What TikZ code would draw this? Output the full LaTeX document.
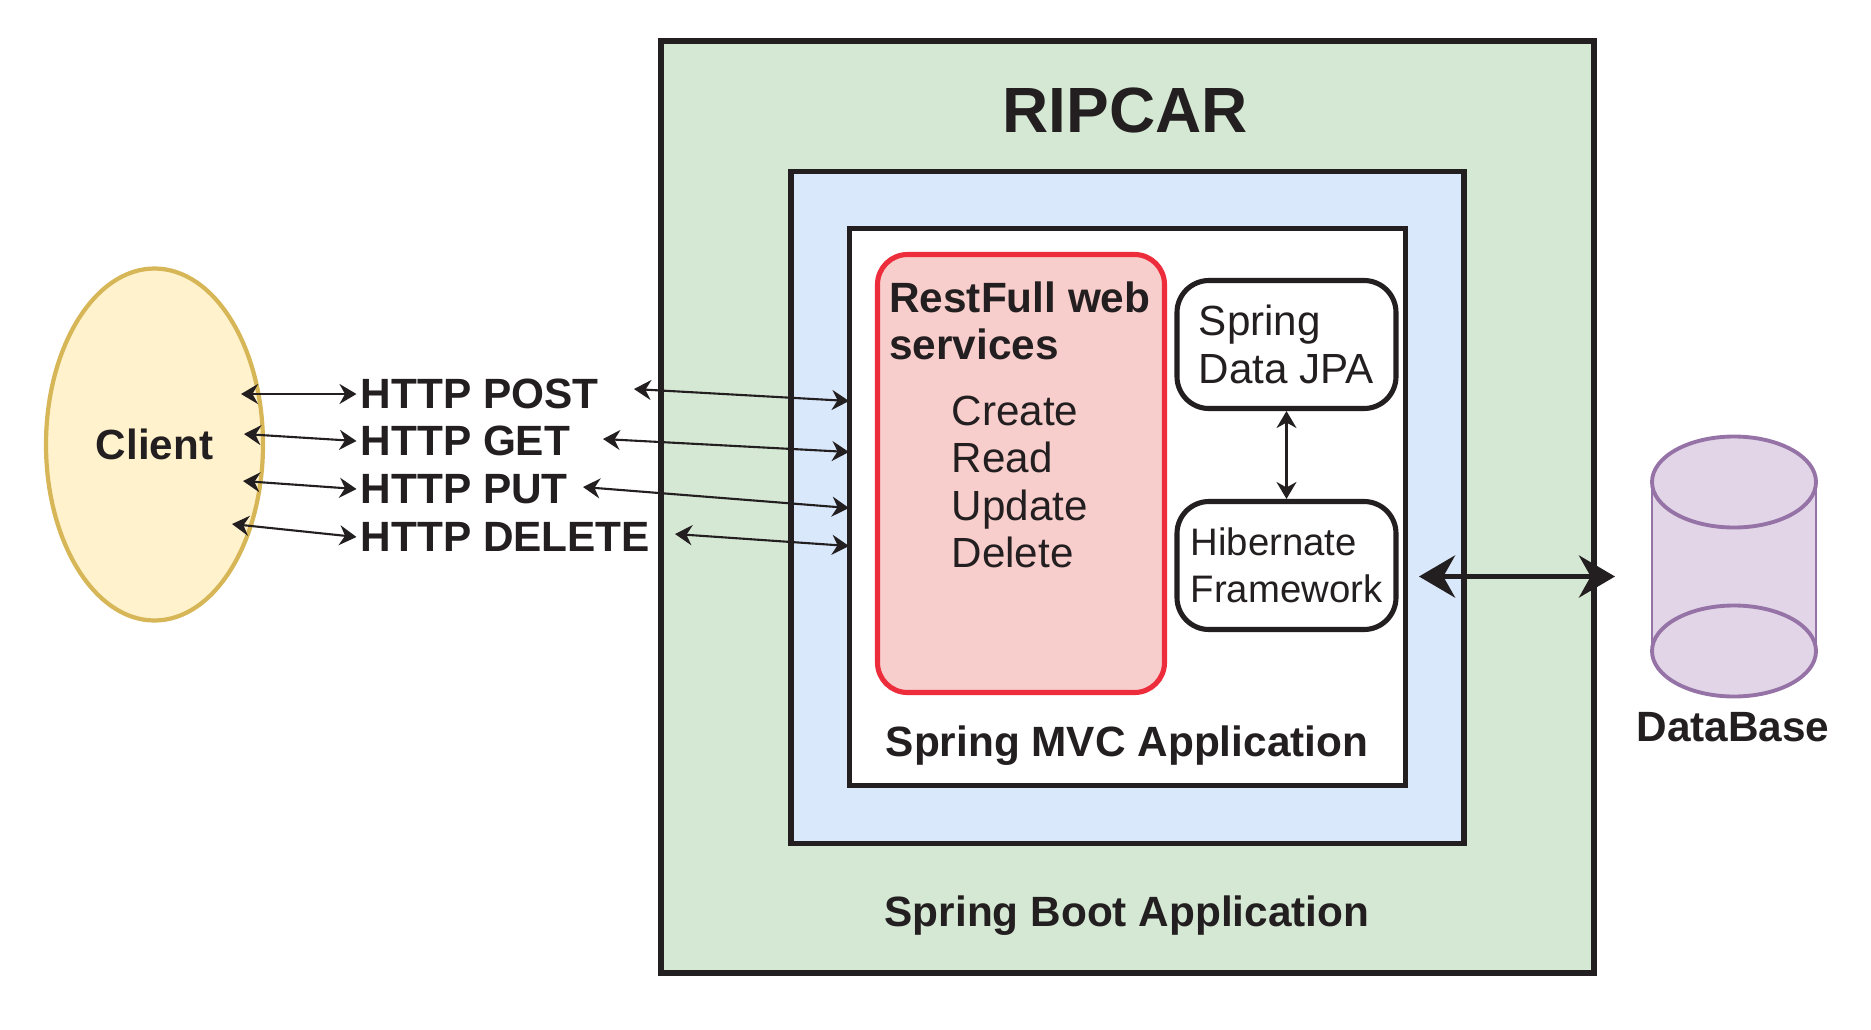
\documentclass[tikz,border=0pt]{standalone}
\usepackage{fontspec}
\setmainfont{Liberation Sans}
\usetikzlibrary{arrows.meta,shapes.geometric}
\definecolor{inkBlack}{RGB}{35,31,32}
\definecolor{bootGreen}{RGB}{213,232,212}
\definecolor{mvcBlue}{RGB}{218,232,252}
\definecolor{restRed}{RGB}{248,206,204}
\definecolor{restEdge}{RGB}{237,45,60}
\definecolor{clientFill}{RGB}{255,242,204}
\definecolor{clientEdge}{RGB}{214,182,86}
\definecolor{dbFill}{RGB}{225,213,231}
\definecolor{dbEdge}{RGB}{150,115,166}
\tikzset{
  box/.style={draw=inkBlack, line width=1.45pt, inner sep=0pt},
  softbox/.style={box, rounded corners=3.2mm, fill=white, align=left, text=inkBlack},
  boldtext/.style={font=\fontsize{12.05}{13.5}\selectfont\bfseries, text=inkBlack, align=left, inner sep=1pt},
  plaintext/.style={font=\fontsize{12}{13.5}\selectfont, text=inkBlack, align=left, inner sep=1pt},
  dbdisc/.style={ellipse, draw=dbEdge, fill=dbFill, line width=1.1pt, inner sep=0pt,
                 minimum width=16.4mm, minimum height=9.1mm},
  thinarrow/.style={{Stealth[length=1.7mm,width=2mm]}-{Stealth[length=1.7mm,width=2mm]}, line width=0.6pt, draw=inkBlack},
  bigarrow/.style={{Stealth[length=3.6mm,width=4.2mm]}-{Stealth[length=3.6mm,width=4.2mm]}, line width=1.5pt, draw=inkBlack}
}
\begin{document}
\begin{tikzpicture}[x=0.1mm,y=-0.1mm]
\useasboundingbox (0,0) rectangle (1871,1029);
% nested application boxes
\node[box, fill=bootGreen, minimum width=93.3mm, minimum height=93.2mm] (boot) at (1127.5,507) {};
\node[box, fill=mvcBlue, minimum width=67.3mm, minimum height=67.2mm] (mvc) at (1127.5,507.5) {};
\node[box, fill=white, minimum width=55.6mm, minimum height=55.7mm] (app) at (1127.5,507) {};
\node[box, draw=restEdge, fill=restRed, rounded corners=3mm, minimum width=28.7mm, minimum height=43.8mm] (rest) at (1021,473.5) {};
\node[softbox, font=\fontsize{12}{13.5}\selectfont, minimum width=21.9mm, minimum height=12.8mm] (jpa) at (1286.5,344.5) {Spring\\Data JPA};
\node[softbox, font=\fontsize{10.9}{13.5}\selectfont, minimum width=21.9mm, minimum height=12.8mm] (hib) at (1286.5,565.5) {Hibernate\\Framework};
\node[font=\fontsize{18.2}{20}\selectfont\bfseries, text=inkBlack] (title) at (1125,110) {RIPCAR};
\node[boldtext] (bootLabel) at (1127,916) {Spring Boot Application};
\node[boldtext] (appLabel) at (1127,746) {Spring MVC Application};
\node[boldtext, anchor=west] (restLabel) at (885,321) {RestFull web\\services};
\node[plaintext, anchor=west] (crud) at (947.5,482) {Create\\Read\\Update\\Delete};
% client and requests
\node[ellipse, draw=clientEdge, fill=clientFill, line width=1.2pt, inner sep=0pt,
      minimum width=21.7mm, minimum height=35.2mm, font=\fontsize{12}{13.5}\selectfont\bfseries, text=inkBlack] (client) at (154.5,444.5) {Client};
\node[boldtext, anchor=west] (post) at (356.5,394) {HTTP POST};
\node[boldtext, anchor=west] (get) at (356.5,441) {HTTP GET};
\node[boldtext, anchor=west] (put) at (356.5,489) {HTTP PUT};
\node[boldtext, anchor=west] (delete) at (356.5,537) {HTTP DELETE};
\coordinate (clientA) at (241,394);
\coordinate (clientB) at (244,434);
\coordinate (clientC) at (243,481);
\coordinate (clientD) at (232,524);
\coordinate (postEnd) at (634,389);
\coordinate (getEnd) at (603,439);
\coordinate (putEnd) at (583,487);
\coordinate (deleteEnd) at (675,534);
\coordinate (appA) at (849,401);
\coordinate (appB) at (849,452);
\coordinate (appC) at (849,508);
\coordinate (appD) at (849,546);
\draw[thinarrow] (clientA) -- (post.west);
\draw[thinarrow] (clientB) -- (get.west);
\draw[thinarrow] (clientC) -- (put.west);
\draw[thinarrow] (clientD) -- (delete.west);
\draw[thinarrow] (postEnd) -- (appA);
\draw[thinarrow] (getEnd) -- (appB);
\draw[thinarrow] (putEnd) -- (appC);
\draw[thinarrow] (deleteEnd) -- (appD);
\draw[thinarrow] (jpa) -- (hib);
% database
\coordinate (dbA) at (1652,482);
\coordinate (dbB) at (1816,651);
\fill[dbFill] (dbA) rectangle (dbB);
\node[dbdisc] (dbBottom) at (1734,651) {};
\node[dbdisc] (dbTop) at (1734,482) {};
\draw[dbEdge, line width=0.7pt] (dbA) -- (dbA |- dbB);
\draw[dbEdge, line width=0.7pt] (dbB |- dbA) -- (dbB);
\node[boldtext] (dbLabel) at (1733,727) {DataBase};
\coordinate (linkA) at (1419,576.5);
\coordinate (linkB) at (1615,576.5);
\draw[bigarrow] (linkA) -- (linkB);
\end{tikzpicture}
\end{document}
